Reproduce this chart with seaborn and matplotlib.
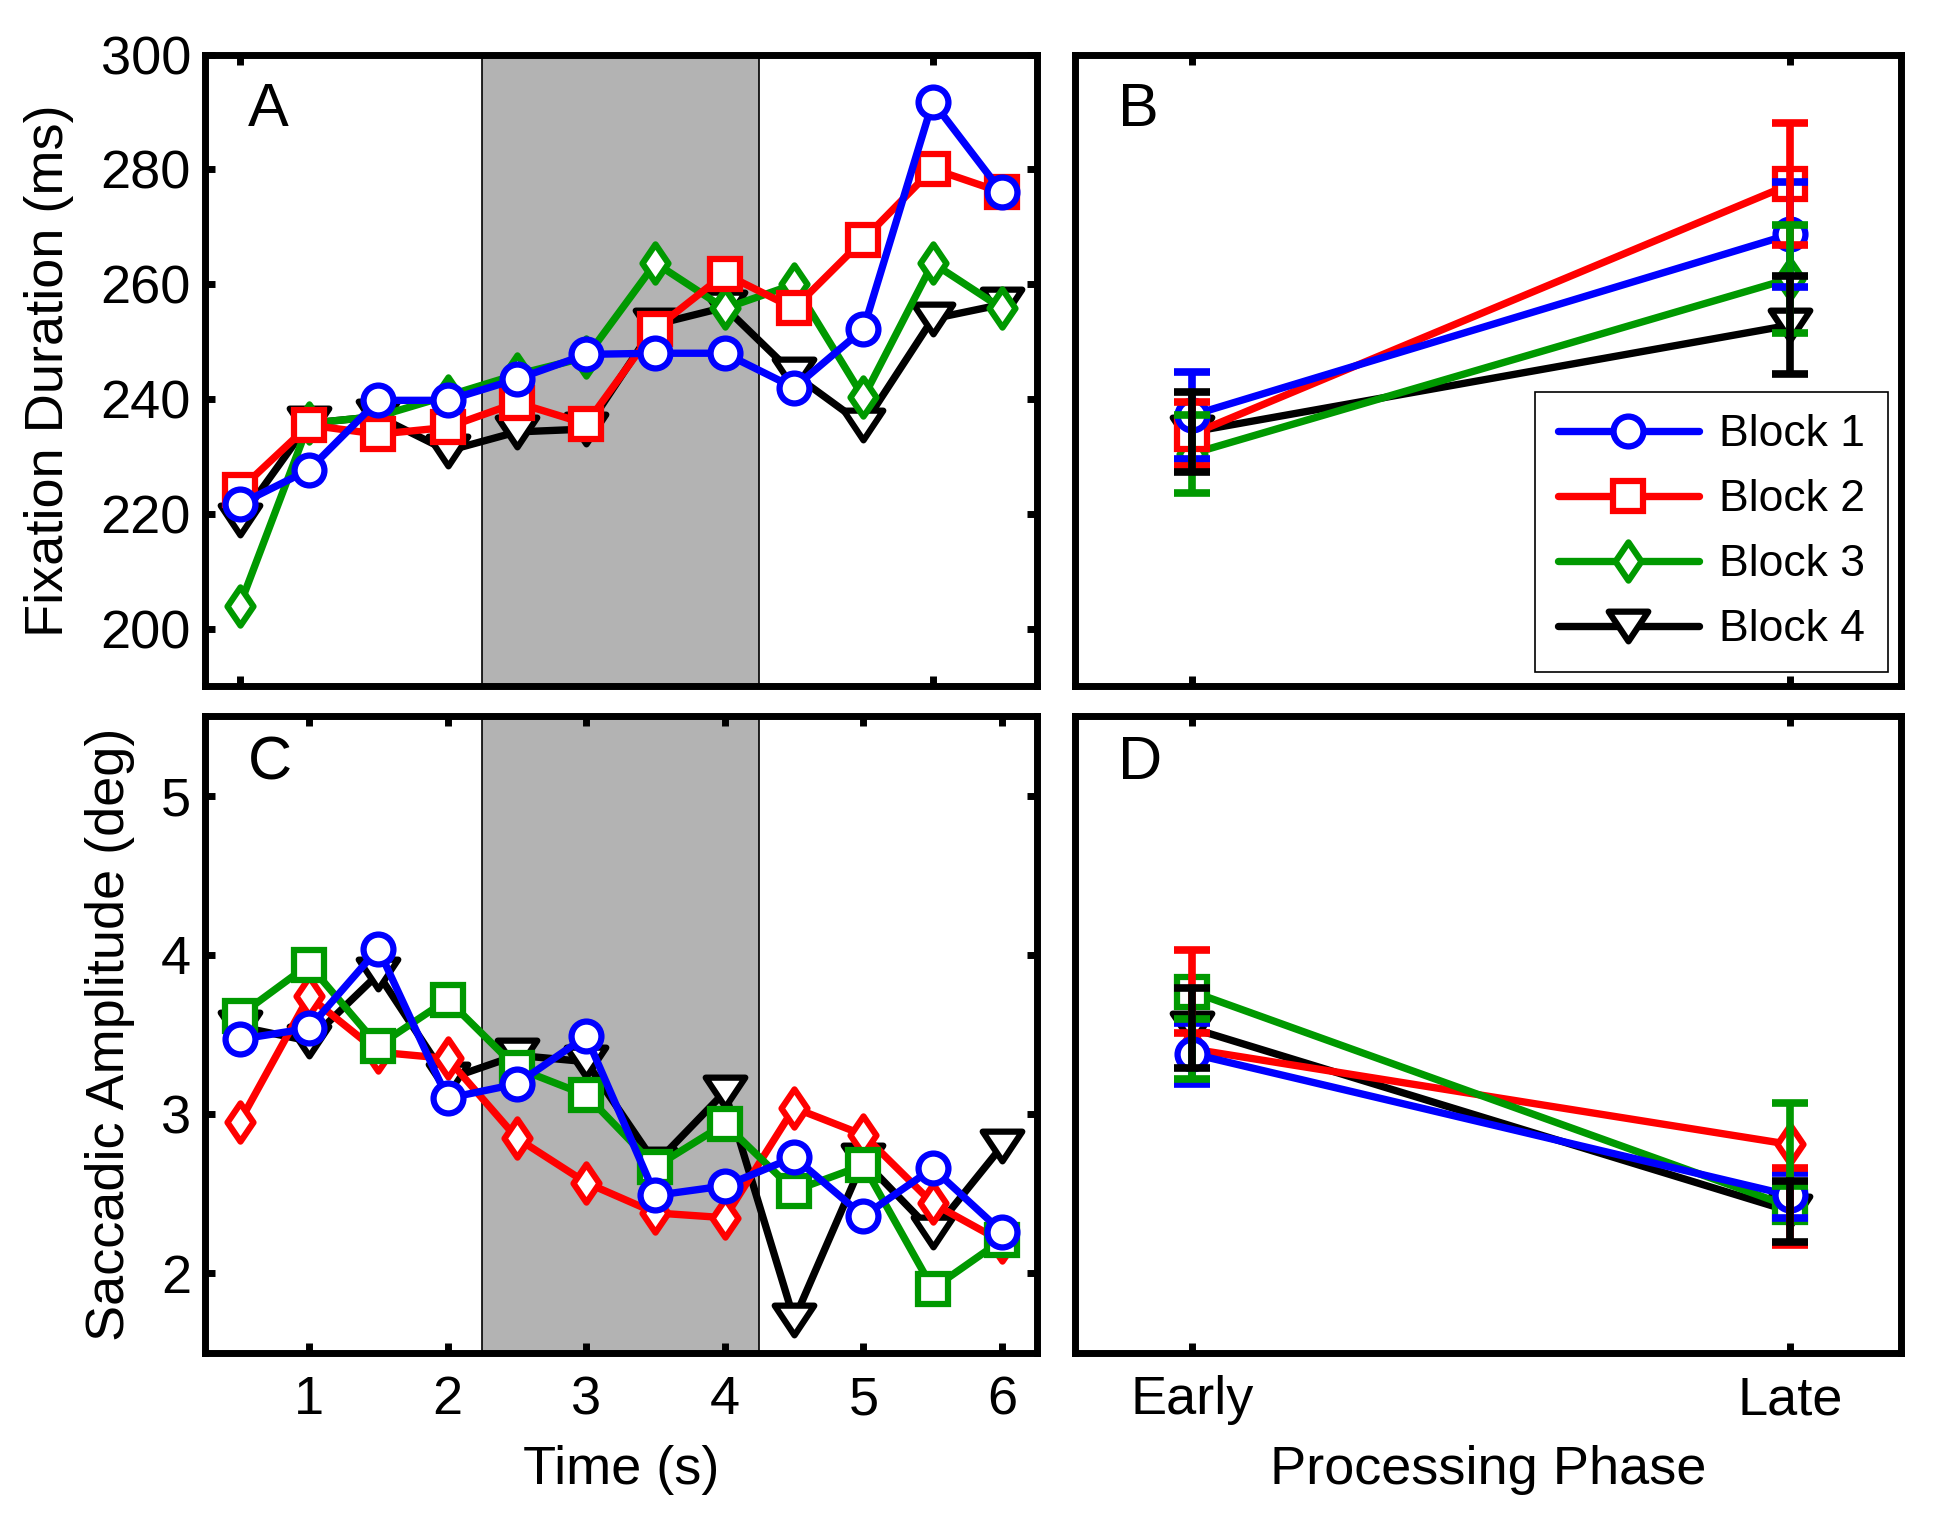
import matplotlib
matplotlib.use("Agg")
import matplotlib.pyplot as plt
import seaborn as sns
from matplotlib.markers import MarkerStyle
from matplotlib.path import Path

# ---- time course data (panels A and C) ----
time_s = [0.5, 1, 1.5, 2, 2.5, 3, 3.5, 4, 4.5, 5, 5.5, 6]
time_ticks = [1, 2, 3, 4, 5, 6]

# fixation duration (ms)
fix_b1 = [221.7, 227.7, 239.8, 239.8, 243.5, 247.8, 248.0, 248.0, 242.0, 252.2, 291.8, 276.0]
fix_b2 = [224.2, 235.5, 233.9, 235.1, 239.4, 235.7, 252.3, 261.8, 255.8, 267.8, 280.1, 276.0]
fix_b3 = [204.0, 235.8, 237.0, 240.6, 244.3, 247.3, 263.7, 255.8, 260.0, 240.3, 263.7, 255.8]
fix_b4 = [219.0, 235.8, 237.0, 231.0, 234.3, 234.8, 253.0, 256.0, 244.3, 235.5, 254.0, 256.5]

# saccadic amplitude (deg)
amp_b1 = [3.47, 3.54, 4.04, 3.10, 3.19, 3.49, 2.49, 2.55, 2.73, 2.36, 2.66, 2.26]
amp_b2 = [3.62, 3.94, 3.43, 3.72, 3.29, 3.12, 2.67, 2.94, 2.52, 2.68, 1.905, 2.21]
amp_b3 = [2.95, 3.74, 3.39, 3.35, 2.85, 2.57, 2.38, 2.35, 3.04, 2.87, 2.44, 2.20]
amp_b4 = [3.55, 3.46, 3.88, 3.22, 3.37, 3.33, 2.69, 3.14, 1.71, 2.71, 2.26, 2.80]

# ---- processing phase data (panels B and D) ----
phase_x = [1, 2]
phase_labels = ["Early", "Late"]

fix_phase_b1 = [237.2, 268.7]
fix_phase_b2 = [233.9, 277.4]
fix_phase_b3 = [230.5, 261.0]
fix_phase_b4 = [234.3, 252.9]
fix_err_b1 = [7.6, 9.1]
fix_err_b2 = [5.6, 10.6]
fix_err_b3 = [6.8, 9.4]
fix_err_b4 = [6.9, 8.5]

amp_phase_b1 = [3.38, 2.49]
amp_phase_b2 = [3.77, 2.42]
amp_phase_b3 = [3.41, 2.81]
amp_phase_b4 = [3.54, 2.39]
amp_err_b1 = [0.19, 0.14]
amp_err_b2 = [0.26, 0.24]
amp_err_b3 = [0.19, 0.26]
amp_err_b4 = [0.25, 0.19]

block_names = ["Block 1", "Block 2", "Block 3", "Block 4"]

BLUE, RED, GREEN, BLACK = "#0000ff", "#ff0000", "#009900", "#000000"

circle = MarkerStyle("o")
square = MarkerStyle("s", joinstyle="miter")
diamond = MarkerStyle(Path([(0, 1), (0.68, 0), (0, -1), (-0.68, 0), (0, 1)], closed=True),
                      joinstyle="miter")
tri_down = MarkerStyle(Path([(-1, 0.75), (1, 0.75), (0, -0.75), (-1, 0.75)], closed=True),
                       joinstyle="miter")

marker_size = {"o": 21.5, "s": 22, "d": 27.5, "v": 28.5}
LW = 5.3
MEW = 4.5
ELW = 5.5
FS = 39

sns.set_theme(style="white")
plt.rcParams["font.family"] = ["Liberation Sans", "DejaVu Sans"]
plt.rcParams["text.color"] = "black"
plt.rcParams["axes.labelcolor"] = "black"


def draw_series(ax, x, y, color, marker, ms, label=None, z=2):
    sns.lineplot(x=x, y=y, ax=ax, color=color, linewidth=LW, marker=marker,
                 markersize=ms, markerfacecolor="white", markeredgecolor=color,
                 markeredgewidth=MEW, label=label, zorder=z, legend=False)


def style_axes(ax):
    for s in ax.spines.values():
        s.set_visible(True)
        s.set_linewidth(5)
        s.set_color("black")
    ax.tick_params(direction="in", length=7, width=5, top=True, right=True,
                   bottom=True, left=True, labelsize=FS, pad=10, colors="black")
    ax.grid(False)


fig = plt.figure(figsize=(19.48, 15.28), dpi=100)
ax_a = fig.add_axes([0.1052, 0.5508, 0.4270, 0.4135])
ax_b = fig.add_axes([0.5520, 0.5508, 0.4238, 0.4135])
ax_c = fig.add_axes([0.1052, 0.1145, 0.4270, 0.4168])
ax_d = fig.add_axes([0.5520, 0.1145, 0.4238, 0.4168])

# ---- A: fixation duration over time ----
ax_a.axvspan(2.25, 4.25, facecolor="#b3b3b3", edgecolor="black", linewidth=1.2, zorder=0)
draw_series(ax_a, time_s, fix_b4, BLACK, tri_down, marker_size["v"], z=2)
draw_series(ax_a, time_s, fix_b3, GREEN, diamond, marker_size["d"], z=3)
draw_series(ax_a, time_s, fix_b2, RED, square, marker_size["s"], z=4)
draw_series(ax_a, time_s, fix_b1, BLUE, circle, marker_size["o"], z=5)
ax_a.set_xlim(0.25, 6.25)
ax_a.set_ylim(190, 300)
ax_a.set_xticks([0.5, 5.5])
ax_a.set_xticklabels([])
ax_a.set_yticks([200, 220, 240, 260, 280, 300])
ax_a.set_ylabel("Fixation Duration (ms)", fontsize=FS, va="center")
ax_a.yaxis.set_label_coords(-0.188, 0.5)

# ---- B: fixation duration by phase ----
series_b = [
    (fix_phase_b1, fix_err_b1, BLUE, circle, "o"),
    (fix_phase_b2, fix_err_b2, RED, square, "s"),
    (fix_phase_b3, fix_err_b3, GREEN, diamond, "d"),
    (fix_phase_b4, fix_err_b4, BLACK, tri_down, "v"),
]
for i, (m, e, c, mk, key) in enumerate(series_b):
    draw_series(ax_b, phase_x, m, c, mk, marker_size[key], label=block_names[i], z=5 - i)
for i, (m, e, c, mk, key) in enumerate(series_b):
    ax_b.errorbar(phase_x, m, yerr=e, fmt="none", ecolor=c, elinewidth=ELW,
                  capsize=13, capthick=ELW, zorder=6 + i)
ax_b.set_xlim(0.805, 2.185)
ax_b.set_ylim(190, 300)
ax_b.set_xticks(phase_x)
ax_b.set_xticklabels([])
ax_b.set_yticks([])

handles, labels = ax_b.get_legend_handles_labels()
leg = ax_b.legend(handles, labels, loc="lower right", bbox_to_anchor=(0.984, 0.022),
                  borderaxespad=0, fontsize=32, frameon=True, fancybox=False,
                  handlelength=3.17, handletextpad=0.47, labelspacing=0.54,
                  borderpad=0.5)
leg.get_frame().set_edgecolor("black")
leg.get_frame().set_linewidth(1.2)
leg.get_frame().set_alpha(1)

# ---- C: saccadic amplitude over time (block 2/3 colours swapped in original) ----
ax_c.axvspan(2.25, 4.25, facecolor="#b3b3b3", edgecolor="black", linewidth=1.2, zorder=0)
draw_series(ax_c, time_s, amp_b4, BLACK, tri_down, marker_size["v"], z=2)
draw_series(ax_c, time_s, amp_b3, RED, diamond, marker_size["d"], z=3)
draw_series(ax_c, time_s, amp_b2, GREEN, square, marker_size["s"], z=4)
draw_series(ax_c, time_s, amp_b1, BLUE, circle, marker_size["o"], z=5)
ax_c.set_xlim(0.25, 6.25)
ax_c.set_ylim(1.5, 5.5)
ax_c.set_xticks(time_ticks)
ax_c.set_yticks([2, 3, 4, 5])
ax_c.set_ylabel("Saccadic Amplitude (deg)", fontsize=FS, va="center")
ax_c.yaxis.set_label_coords(-0.114, 0.5)
ax_c.set_xlabel("Time (s)", fontsize=FS, va="center")
ax_c.xaxis.set_label_coords(0.5, -0.183)

# ---- D: saccadic amplitude by phase ----
lines_d = [
    (amp_phase_b1, BLUE, circle, "o"),
    (amp_phase_b2, GREEN, square, "s"),
    (amp_phase_b3, RED, diamond, "d"),
    (amp_phase_b4, BLACK, tri_down, "v"),
]
for i, (m, c, mk, key) in enumerate(lines_d):
    draw_series(ax_d, phase_x, m, c, mk, marker_size[key], z=5 - i)
errs_d = [
    (amp_phase_b1, amp_err_b1, BLUE),
    (amp_phase_b2, amp_err_b2, RED),
    (amp_phase_b3, amp_err_b3, GREEN),
    (amp_phase_b4, amp_err_b4, BLACK),
]
for i, (m, e, c) in enumerate(errs_d):
    ax_d.errorbar(phase_x, m, yerr=e, fmt="none", ecolor=c, elinewidth=ELW,
                  capsize=13, capthick=ELW, zorder=6 + i)
ax_d.set_xlim(0.805, 2.185)
ax_d.set_ylim(1.5, 5.5)
ax_d.set_xticks(phase_x)
ax_d.set_xticklabels(phase_labels)
ax_d.set_yticks([])
ax_d.set_xlabel("Processing Phase", fontsize=FS, va="center")
ax_d.xaxis.set_label_coords(0.5, -0.183)

for ax, letter in zip([ax_a, ax_b, ax_c, ax_d], ["A", "B", "C", "D"]):
    style_axes(ax)
    ax.tick_params(axis="x", pad=16)
    ax.text(0.052, 0.912 if letter in "AB" else 0.925, letter, transform=ax.transAxes,
            fontsize=44, ha="left", va="center", color="black", zorder=20)

fig.savefig("out.png", dpi=100, facecolor="white")
